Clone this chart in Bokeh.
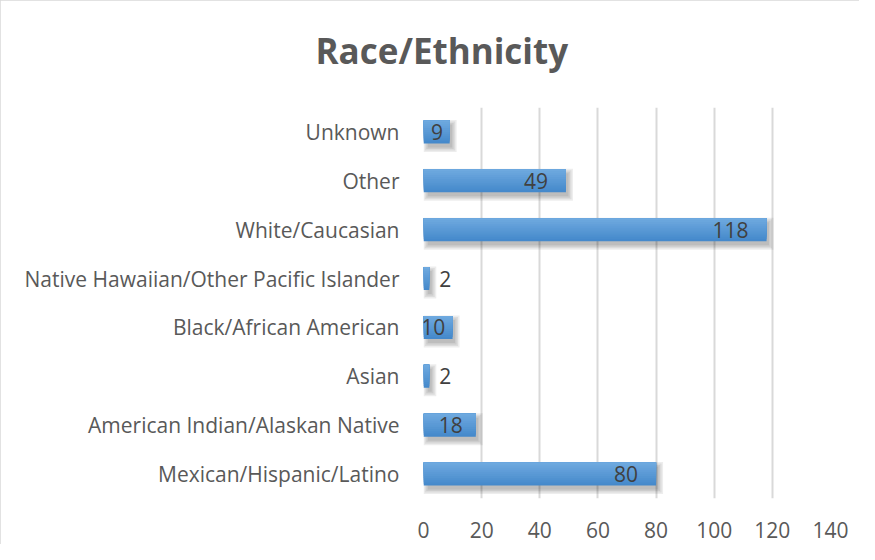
from bokeh.plotting import figure
from bokeh.models import ColumnDataSource, FactorRange, Range1d, FixedTicker, Title
from bokeh.transform import dodge
from bokeh.embed import file_html
from bokeh.resources import INLINE

categories = [
    "Mexican/Hispanic/Latino",
    "American Indian/Alaskan Native",
    "Asian",
    "Black/African American",
    "Native Hawaiian/Other Pacific Islander",
    "White/Caucasian",
    "Other",
    "Unknown",
]
counts = [80, 18, 2, 10, 2, 118, 49, 9]
x_ticks = [0, 20, 40, 60, 80, 100, 120, 140]
title_text = "Race/Ethnicity"

W, H = 859, 544
BL, BR, BT, BB = 423, 29, 107, 46
frame_w = W - BL - BR
px_per_unit = frame_w / (x_ticks[-1] - x_ticks[0])
band_px = (H - BT - BB) / len(categories)

p = figure(width=W, height=H, y_range=FactorRange(*categories, range_padding=0),
           x_range=Range1d(x_ticks[0], x_ticks[-1]),
           output_backend="svg", toolbar_location=None,
           min_border_left=BL, min_border_right=BR, min_border_top=BT, min_border_bottom=BB)
p.styles = {"outline": "1px solid #d9d9d9", "outline-offset": "-1px"}
p.outline_line_color = None
p.background_fill_color = "white"
p.border_fill_color = "white"

# spacer between the frame and the title, then the title itself
p.add_layout(Title(text=" ", text_font="Open Sans", text_font_size="10px", standoff=13), "above")
p.add_layout(Title(text=title_text, align="left", offset=-108, standoff=10, text_font="Open Sans",
                   text_font_size="35px", text_font_style="bold", text_color="#595959"), "above")

# grid
p.ygrid.grid_line_color = None
p.xgrid.grid_line_color = "#d9d9d9"
p.xgrid.grid_line_width = 2
p.xaxis.ticker = FixedTicker(ticks=x_ticks)

for ax in (p.xaxis, p.yaxis):
    ax.axis_line_color = None
    ax.major_tick_line_color = None
    ax.minor_tick_line_color = None
    ax.major_label_text_font = "Open Sans"
    ax.major_label_text_color = "#595959"
    ax.major_label_text_font_size = "21px"
p.yaxis.major_label_standoff = 18
p.xaxis.major_label_standoff = 17

src = ColumnDataSource(dict(cat=categories, v=counts))
bar_h = 0.47

# soft shadow layers
dx = 2.5 / px_per_unit
dy = -4.0 / band_px
for k in range(4):
    grow_y = (1.5 * k) / band_px
    grow_x = (1.5 * k) / px_per_unit
    sh = ColumnDataSource(dict(cat=categories,
                               l=[dx - grow_x + 0.6 for _ in counts],
                               r=[c + dx + grow_x for c in counts]))
    p.hbar(y=dodge("cat", dy, range=p.y_range), left="l", right="r",
           height=bar_h + 2 * grow_y, source=sh,
           fill_color="#000000", fill_alpha=0.07, line_color=None)

# gradient bar: overlapping layers anchored at the top edge
top_c = (0x6e, 0xa9, 0xdf)
bot_c = (0x45, 0x89, 0xcb)
N = 12
for k in range(N):
    f = k / (N - 1)
    col = "#%02x%02x%02x" % tuple(int(round(bot_c[i] + (top_c[i] - bot_c[i]) * f)) for i in range(3))
    hk = bar_h * (N - k) / N
    off = bar_h / 2 - hk / 2
    p.hbar(y=dodge("cat", off, range=p.y_range), left=0, right="v",
           height=hk, source=src, fill_color=col, line_color=None)

# value labels
inside = dict(cat=[], v=[], lab=[], xo=[])
outside = dict(cat=[], v=[], lab=[])
for c, v in zip(categories, counts):
    wpx = v * px_per_unit
    if wpx < 20:
        outside["cat"].append(c); outside["v"].append(v); outside["lab"].append(str(v))
    else:
        inside["cat"].append(c); inside["v"].append(v); inside["lab"].append(str(v))
        inside["xo"].append(-min(18.0, 0.25 * wpx))

p.text(x="v", y="cat", text="lab", x_offset="xo", source=ColumnDataSource(inside),
       text_align="right", text_baseline="middle", text_font_size="21px",
       text_color="#404040", text_font={"value": "Open Sans"})
p.text(x="v", y="cat", text="lab", x_offset=10, source=ColumnDataSource(outside),
       text_align="left", text_baseline="middle", text_font_size="21px",
       text_color="#404040", text_font={"value": "Open Sans"})

open("out.html", "w").write(file_html(p, INLINE))
